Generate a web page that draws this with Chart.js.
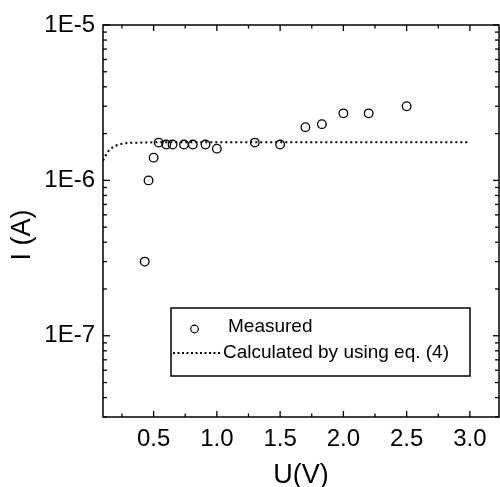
<!DOCTYPE html>
<html>
<head>
<meta charset="utf-8">
<script src="https://cdn.jsdelivr.net/npm/chart.js@4.4.0/dist/chart.umd.min.js"></script>
<style>
    html, body { margin: 0; padding: 0; background: #fff; }
    #wrap { width: 500px; height: 487px; }
</style>
</head>
<body>
<div id="wrap"><canvas id="ivChart" width="500" height="487"></canvas></div>
<script>
// Measured I-U points
const measuredU = [0.43, 0.46, 0.50, 0.54, 0.60, 0.65, 0.74, 0.81, 0.91, 1.00, 1.30, 1.50, 1.70, 1.83, 2.00, 2.20, 2.50];
const measuredI = [3.0e-7, 1.0e-6, 1.4e-6, 1.75e-6, 1.7e-6, 1.7e-6, 1.7e-6, 1.7e-6, 1.7e-6, 1.6e-6, 1.75e-6, 1.7e-6, 2.2e-6, 2.3e-6, 2.7e-6, 2.7e-6, 3.0e-6];

// Calculated curve (eq. 4)
const calcU = [0.10, 0.12, 0.14, 0.16, 0.18, 0.20, 0.25, 0.30, 0.40, 0.60, 1.00, 1.50, 2.00, 2.50, 3.00];
const calcI = [1.34e-6, 1.44e-6, 1.53e-6, 1.59e-6, 1.64e-6, 1.67e-6, 1.72e-6, 1.74e-6, 1.75e-6, 1.76e-6, 1.76e-6, 1.76e-6, 1.76e-6, 1.76e-6, 1.76e-6];

// Axis ticks
const xTicks = [0.5, 1.0, 1.5, 2.0, 2.5, 3.0];
const xMinorTicks = [0.25, 0.75, 1.25, 1.75, 2.25, 2.75];
const yTicks = [1e-7, 1e-6, 1e-5];
const yTickLabels = ['1E-7', '1E-6', '1E-5'];
const yDecades = [1e-8, 1e-7, 1e-6];
const yMinorSteps = [2, 3, 4, 5, 6, 7, 8, 9];

const legendLabels = ['Measured', 'Calculated by using eq. (4)'];
const xTitle = 'U(V)';
const yTitle = 'I (A)';

const FONT = '"Liberation Sans", Arial, Helvetica, sans-serif';
const PLOT_RIGHT = 499;

// Frame with inward ticks on all four sides, the y title and the boxed legend
const framePlugin = {
    id: 'framePlugin',
    // the x scale keeps a few px of right padding; stretch the plot to the frame edge
    afterLayout(chart) {
        const x = chart.scales.x;
        const a = chart.chartArea;
        a.right = PLOT_RIGHT;
        a.width = PLOT_RIGHT - a.left;
        x.right = PLOT_RIGHT;
        x.width = PLOT_RIGHT - x.left;
        x.configure();
    },
    afterDraw(chart) {
        const { ctx, chartArea: a, scales: { x, y } } = chart;
        ctx.save();
        ctx.strokeStyle = '#000';
        ctx.lineWidth = 1.5;
        ctx.strokeRect(a.left, a.top, a.right - a.left, a.bottom - a.top);

        const line = (x1, y1, x2, y2) => {
            ctx.beginPath();
            ctx.moveTo(x1, y1);
            ctx.lineTo(x2, y2);
            ctx.stroke();
        };

        ctx.lineWidth = 1.3;
        xTicks.forEach(v => {
            const px = x.getPixelForValue(v);
            line(px, a.bottom, px, a.bottom - 6);
            line(px, a.top, px, a.top + 6);
        });
        xMinorTicks.forEach(v => {
            const px = x.getPixelForValue(v);
            line(px, a.bottom, px, a.bottom - 3.5);
            line(px, a.top, px, a.top + 3.5);
        });
        yTicks.forEach(v => {
            const py = y.getPixelForValue(v);
            line(a.left, py, a.left + 7, py);
            line(a.right, py, a.right - 6, py);
        });
        yDecades.forEach(d => {
            yMinorSteps.forEach(m => {
                const v = d * m;
                if (v < y.min || v > y.max) return;
                const py = y.getPixelForValue(v);
                line(a.left, py, a.left + 4, py);
                line(a.right, py, a.right - 4, py);
            });
        });

        // y axis title
        ctx.save();
        ctx.translate(23, 235);
        ctx.rotate(-Math.PI / 2);
        ctx.fillStyle = '#000';
        ctx.font = '27px ' + FONT;
        ctx.textAlign = 'center';
        ctx.textBaseline = 'middle';
        ctx.fillText(yTitle, 0, 0);
        ctx.restore();

        // legend box
        const box = { left: 171, top: 308, right: 470, bottom: 376 };
        ctx.fillStyle = '#fff';
        ctx.fillRect(box.left, box.top, box.right - box.left, box.bottom - box.top);
        ctx.lineWidth = 1.5;
        ctx.strokeRect(box.left, box.top, box.right - box.left, box.bottom - box.top);

        ctx.lineWidth = 1.2;
        ctx.beginPath();
        ctx.arc(194.5, 329, 3.8, 0, Math.PI * 2);
        ctx.stroke();

        ctx.lineWidth = 2;
        ctx.setLineDash([2, 2.5]);
        line(173, 353, 221, 353);
        ctx.setLineDash([]);

        ctx.fillStyle = '#000';
        ctx.font = '19px ' + FONT;
        ctx.textAlign = 'left';
        ctx.textBaseline = 'alphabetic';
        ctx.fillText(legendLabels[0], 228, 332);
        ctx.fillText(legendLabels[1], 223, 358);
        ctx.restore();
    }
};

new Chart(document.getElementById('ivChart'), {
    type: 'scatter',
    data: {
        datasets: [
            {
                label: legendLabels[0],
                data: measuredU.map((u, i) => ({ x: u, y: measuredI[i] })),
                pointStyle: 'circle',
                pointRadius: 4.3,
                pointBorderWidth: 1.3,
                borderColor: '#000',
                backgroundColor: 'rgba(0,0,0,0)'
            },
            {
                label: legendLabels[1],
                data: calcU.map((u, i) => ({ x: u, y: calcI[i] })),
                showLine: true,
                pointRadius: 0,
                borderColor: '#000',
                borderWidth: 2,
                borderDash: [2, 3],
                tension: 0.3,
                cubicInterpolationMode: 'monotone'
            }
        ]
    },
    options: {
        responsive: false,
        animation: false,
        layout: { padding: { top: 25, right: 1, left: 0, bottom: 0 } },
        plugins: {
            legend: { display: false },
            tooltip: { enabled: false }
        },
        scales: {
            x: {
                type: 'linear',
                min: 0.1,
                max: 3.23,
                grid: { display: false, drawTicks: false },
                border: { display: false },
                afterBuildTicks: s => { s.ticks = xTicks.map(v => ({ value: v })); },
                afterFit: s => { s.height = 70; },
                ticks: {
                    padding: 8,
                    color: '#000',
                    maxRotation: 0,
                    autoSkip: false,
                    font: { family: FONT, size: 24 },
                    callback: v => v.toFixed(1)
                },
                title: {
                    display: true,
                    text: xTitle,
                    color: '#000',
                    font: { family: FONT, size: 27, lineHeight: 0.85 },
                    padding: { top: 0, bottom: 0 }
                }
            },
            y: {
                type: 'logarithmic',
                min: 3.24e-8,
                max: 1e-5,
                grid: { display: false, drawTicks: false },
                border: { display: false },
                afterBuildTicks: s => { s.ticks = yTicks.map(v => ({ value: v })); },
                afterFit: s => { s.width = 103; },
                ticks: {
                    padding: 8,
                    color: '#000',
                    autoSkip: false,
                    font: { family: FONT, size: 24 },
                    callback: (v, i) => yTickLabels[i]
                }
            }
        }
    },
    plugins: [framePlugin]
});
</script>
</body>
</html>
